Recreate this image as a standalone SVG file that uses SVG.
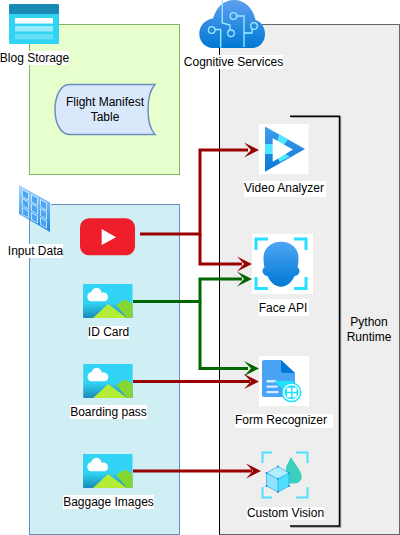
<svg xmlns="http://www.w3.org/2000/svg" width="400" height="535" viewBox="0 0 400 535">
<style>
text{font-family:"Liberation Sans",Arial,sans-serif;font-size:12px;fill:#000;text-anchor:middle}
.bg{fill:#fff}
.red{fill:none;stroke:#990000;stroke-width:3}
.green{fill:none;stroke:#006600;stroke-width:3}
</style>
<defs>
<linearGradient id="sky" x1="0" y1="0" x2="0" y2="1"><stop offset="0" stop-color="#32d4f5"/><stop offset="0.55" stop-color="#32d4f5"/><stop offset="1" stop-color="#198ab3"/></linearGradient>
<linearGradient id="cloud" x1="0" y1="0" x2="0" y2="1"><stop offset="0" stop-color="#5ea0ef"/><stop offset="1" stop-color="#0078d4"/></linearGradient>
<linearGradient id="face" x1="0" y1="0" x2="0" y2="1"><stop offset="0" stop-color="#4fa6f5"/><stop offset="1" stop-color="#0078d4"/></linearGradient>
<linearGradient id="tube" x1="0" y1="0" x2="0" y2="1"><stop offset="0" stop-color="#a8d8ff"/><stop offset="1" stop-color="#1a86e0"/></linearGradient>
<linearGradient id="play" x1="0" y1="0" x2="0" y2="1"><stop offset="0" stop-color="#3f9fee"/><stop offset="1" stop-color="#0a78d4"/></linearGradient>
<g id="pic">
<rect width="49.500" height="34" rx="1" fill="url(#sky)"/>
<path d="M5 17c-3.500 0-5-2-5-4.500S2 8 4.500 8C5.500 5 8 3.500 10.500 3.500S15.500 5 16.500 8.500c3-.5 7 .5 7 4.500 0 2.500-2 4-4.500 4z" transform="translate(4.300 .2) scale(.88 1)" fill="#fff"/>
<path d="M33 21L42 15.500L49.500 20V34H44z" fill="#86d633"/>
<path d="M10 34L25 20L44 34z" fill="#b4ec36"/>
</g>
<path id="tipR" d="M0 0 L-15 -7.500 L-8 0 L-15 7.500z" fill="#990000"/>
<path id="tipG" d="M0 0 L-15 -7.500 L-8 0 L-15 7.500z" fill="#006600"/>
</defs>

<g id="runtime-panel">
<rect x="219.500" y="24.500" width="180" height="510" fill="#eeeeee" stroke="#666666"/>
<path d="M219.500 24.500V534.500" fill="none" stroke="#000"/>
</g>

<g id="storage-panel"><rect x="29.500" y="24.500" width="150" height="150" fill="#e6ffcc" stroke="#82b366"/></g>
<g id="input-panel"><rect x="29.500" y="204.500" width="150" height="330" fill="#d0eff5" stroke="#6c8ebf"/></g>

<g id="python-runtime">
<path d="M291 117H340.500V527H291" fill="none" stroke="#999" stroke-width="1.500"/>
<path d="M290 116.300H339.500V526H290" fill="none" stroke="#000" stroke-width="1.500"/>
<text x="369" y="326">Python</text>
<text x="369" y="341">Runtime</text>
</g>

<g id="blog-storage">
<rect x="9" y="4" width="50" height="40" rx="1.500" fill="#32d4f5"/>
<path d="M9 14V5.500A1.500 1.500 0 0 1 10.500 4H57.500A1.500 1.500 0 0 1 59 5.500V14z" fill="#198ab3"/>
<rect x="15" y="18" width="38" height="5.500" fill="#fff"/>
<rect x="15" y="26" width="38" height="5.500" fill="#fff" opacity=".5"/>
<rect x="15" y="34" width="38" height="5.500" fill="#fff" opacity=".25"/>
<rect class="bg" x="0" y="51" width="69" height="14"/>
<text x="34.500" y="62">Blog Storage</text>
</g>

<g id="flight-manifest">
<path d="M155 84.500H69.500C60 84.500 55 97 55 109.500S60 134.500 69.500 134.500H155C150 129 148 118 148 109.500S150 90 155 84.500z" fill="#dae8fc" stroke="#6c8ebf" stroke-width="1.500"/>
<text x="105" y="106">Flight Manifest</text>
<text x="105" y="121">Table</text>
</g>

<g id="cognitive-services">
<path d="M212 48C204 47 199.300 41 199.300 33.500C199.300 26 205 19.500 213 18.500C216 8 223 0 234 0C245 0 253 8 255.500 20C261 21.500 265 27 265 34C265 42 260 47 253 48z" fill="url(#cloud)"/>
<g fill="none" stroke="#9cebff" stroke-width="1.300">
<path d="M222.300 0V23L230 25V30"/>
<circle cx="231" cy="33.300" r="3.300"/>
<circle cx="233.500" cy="16" r="3.300"/>
<path d="M237 16H244V47"/>
<path d="M215 29.500H220.700V47.500"/>
<circle cx="211.700" cy="30" r="3.300"/>
<path d="M244 33H252V29"/>
<circle cx="254" cy="26" r="3.300"/>
</g>
<rect class="bg" x="184" y="55" width="99" height="14"/>
<text x="233.500" y="66">Cognitive Services</text>
</g>

<g id="input-data">
<path d="M19 185L50 202.500V232L19 214z" fill="url(#tube)"/>
<path d="M50 202.500L51 203.500V233L50 232z" fill="#cfe9ff"/>
<g transform="matrix(1 .56 0 1 0 0)" fill="#4aa6f2" stroke="#d8efff" stroke-width=".8">
<rect x="22.500" y="177" width="6" height="7"/><rect x="31.500" y="177" width="6" height="7"/><rect x="40.500" y="177" width="6" height="7"/>
<rect x="22.500" y="186" width="6" height="7"/><rect x="31.500" y="186" width="6" height="7"/><rect x="40.500" y="186" width="6" height="7"/>
<rect x="22.500" y="195" width="6" height="7"/><rect x="31.500" y="195" width="6" height="7"/><rect x="40.500" y="195" width="6" height="7"/>
</g>
<rect class="bg" x="8" y="244" width="55" height="14"/>
<text x="35.500" y="255">Input Data</text>
</g>

<g id="youtube">
<rect x="80" y="218.300" width="55" height="37" rx="9" fill="#ee1f2b"/>
<path d="M101.700 229L116 237.300L101.700 245z" fill="#fff"/>
</g>

<g id="id-card">
<use href="#pic" x="83" y="284"/>
<rect class="bg" x="88" y="326" width="41" height="13"/>
<text x="108.500" y="336">ID Card</text>
</g>
<g id="boarding-pass">
<use href="#pic" x="83.200" y="364"/>
<rect class="bg" x="70" y="405" width="77" height="14"/>
<text x="108.500" y="416">Boarding pass</text>
</g>
<g id="baggage-images">
<use href="#pic" x="83" y="454"/>
<rect class="bg" x="63" y="495" width="91" height="14"/>
<text x="108.500" y="506">Baggage Images</text>
</g>

<g id="video-analyzer">
<rect class="bg" x="259" y="124" width="49.500" height="50"/>
<path d="M265 126.500L305 149L265 171.700z" fill="url(#play)"/>
<path d="M265 144H273V154H265zM279 134.500L288 139.500L283 146L277 142.500zM283 152.500L290 156.500L280 162L277 158z" fill="#50e6ff"/>
<path d="M272.700 138.300L293 149.500L272.700 161.700z" fill="#fff"/>
<rect class="bg" x="244" y="181" width="82" height="16"/>
<text x="284" y="192">Video Analyzer</text>
</g>

<g id="face-api">
<rect class="bg" x="252" y="234" width="61" height="60"/>
<path d="M256 250V239H268M294 239H306V250M256 277V288.500H268M294 288.500H306V277" fill="none" stroke="#26e0ff" stroke-width="3"/>
<path d="M281 241.700C270 241.700 263.500 249 263.500 258C263.500 262 264 265 264.500 267.500C262.500 268.500 262 271 263 273C264 275 265.500 276 267.500 276C270 282 275 286.700 281 286.700C287 286.700 292 282 294.500 276C296.500 276 298 275 299 273C300 271 299.500 268.500 297.500 267.500C298 265 298.500 262 298.500 258C298.500 249 292 241.700 281 241.700z" fill="url(#face)"/>
<rect class="bg" x="258.500" y="299" width="50.500" height="17"/>
<text x="283" y="312">Face API</text>
</g>

<g id="form-recognizer">
<rect class="bg" x="259" y="356" width="50" height="50"/>
<path d="M264 360H281L295 373V397H264A2 2 0 0 1 262 395V362A2 2 0 0 1 264 360z" fill="#4aa3f5"/>
<path d="M281 360L295 373H283a2 2 0 0 1-2-2z" fill="#0078d4"/>
<g fill="#d3ecff"><rect x="266.500" y="380" width="10" height="2.500"/><rect x="266.500" y="385.500" width="11" height="2.200"/><rect x="266.500" y="391" width="12" height="2.200"/></g>
<path d="M274 381H294L286 392z" fill="#1de4ff"/>
<circle cx="291.500" cy="392.300" r="9.300" fill="#fff" stroke="#20e3ff" stroke-width="1.500"/>
<circle cx="291.500" cy="392.300" r="7" fill="#1de4ff"/>
<g fill="#fff"><rect x="287" y="387.800" width="4" height="4"/><rect x="292.500" y="387.800" width="4" height="4"/><rect x="287" y="393.300" width="4" height="4"/><rect x="292.500" y="393.300" width="4" height="4"/></g>
<rect class="bg" x="235" y="414" width="98" height="14"/>
<text x="281" y="424">Form Recognizer</text>
</g>

<g id="custom-vision">
<path d="M262.500 463V452.500H272M296 452.500H307.500V463M262.500 487V497.500H272M296 497.500H307.500V487" fill="none" stroke="#50e0ff" stroke-width="2"/>
<path d="M291 457C294 463 301.700 471 301.700 476.500C301.700 480.500 299 483 295.500 483.500H286V467z" fill="#3bd0bd"/>
<path d="M266.500 473L278 466.500L289 473V486L278 492L266.500 486z" fill="#aeeeff"/>
<path d="M278 479L289 473V486L278 492z" fill="#50e0ff"/>
<path d="M266.500 473L278 479V492L266.500 486z" fill="#8fe3ff"/>
<path d="M266.500 473L278 466.500L289 473L278 479zM278 479V492M266.500 473V486L278 492L289 486V473" fill="none" stroke="#1b93eb" stroke-width=".6"/>
<g fill="#1b93eb"><circle cx="266.500" cy="473" r="1"/><circle cx="278" cy="466.500" r="1"/><circle cx="289" cy="473" r="1"/><circle cx="278" cy="479" r="1"/><circle cx="266.500" cy="486" r="1"/><circle cx="289" cy="486" r="1"/><circle cx="278" cy="492" r="1"/></g>
<rect class="bg" x="247" y="507" width="77" height="13"/>
<text x="285.500" y="517">Custom Vision</text>
</g>

<g id="connectors">
<path class="red" d="M140 234H200V150H248"/>
<path class="red" d="M200 234V264H242"/>
<use href="#tipR" x="259" y="150"/>
<use href="#tipR" x="252" y="264"/>
<path class="green" d="M133 301.500H200V279H242"/>
<path class="green" d="M200 301.500V368.500H248"/>
<use href="#tipG" x="252" y="279"/>
<use href="#tipG" x="259" y="368.500"/>
<path class="red" d="M133 381.500H250"/>
<use href="#tipR" x="259" y="381.500"/>
<path class="red" d="M133 471H252"/>
<use href="#tipR" x="261" y="471"/>
</g>
</svg>
